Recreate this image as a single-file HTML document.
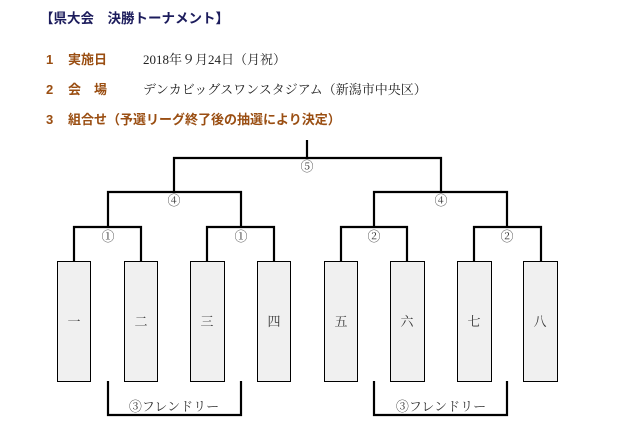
<!DOCTYPE html>
<html><head><meta charset="utf-8"><style>
html,body{margin:0;padding:0;background:#fff;width:635px;height:427px;overflow:hidden}
</style></head><body>
<svg width="635" height="427" xmlns="http://www.w3.org/2000/svg" style="display:block">
<g font-family="'Liberation Sans','Noto Sans CJK JP',sans-serif" font-size="13">
<text x="40" y="23" font-weight="bold" fill="#1c1c5c" font-size="13.5">【県大会　決勝トーナメント】</text>
<g fill="#9a4e12" font-weight="bold">
<text x="46" y="64">1</text><text x="68" y="64">実施日</text>
<text x="46" y="94">2</text><text x="68" y="94">会　場</text>
<text x="46" y="124">3</text><text x="68" y="124">組合せ（予選リーグ終了後の抽選により決定）</text>
</g>
<g fill="#222" font-family="'Liberation Serif','Noto Serif CJK SC',serif">
<text x="143" y="64">2018年９月24日（月祝）</text>
<text x="143" y="94">デンカビッグスワンスタジアム（新潟市中央区）</text>
</g>
</g>
<g stroke="#000" stroke-width="2.2" fill="none">
<polyline points="307,140 307,158"/>
<polyline points="174,192 174,158 441,158 441,192"/>
<polyline points="108,227 108,192 241,192 241,227"/>
<polyline points="374,227 374,192 507,192 507,227"/>
<polyline points="74,261 74,227 141,227 141,261"/>
<polyline points="207,261 207,227 274,227 274,261"/>
<polyline points="341,261 341,227 407,227 407,261"/>
<polyline points="474,261 474,227 541,227 541,261"/>
<polyline points="108,381 108,415 241,415 241,381"/>
<polyline points="374,381 374,415 507,415 507,381"/>
</g>
<g fill="#f0f0f0" stroke="#000" stroke-width="1">
<rect x="57.5" y="261.5" width="33" height="120"/>
<rect x="124.5" y="261.5" width="33" height="120"/>
<rect x="190.5" y="261.5" width="34" height="120"/>
<rect x="257.5" y="261.5" width="33" height="120"/>
<rect x="324.5" y="261.5" width="33" height="120"/>
<rect x="390.5" y="261.5" width="34" height="120"/>
<rect x="457.5" y="261.5" width="34" height="120"/>
<rect x="523.5" y="261.5" width="34" height="120"/>
</g>
<g font-family="'Liberation Serif','Noto Serif CJK SC',serif" font-size="13" fill="#333" text-anchor="middle">
<text x="74" y="326">一</text><text x="141" y="326">二</text><text x="207" y="326">三</text><text x="274" y="326">四</text>
<text x="341" y="326">五</text><text x="407" y="326">六</text><text x="474" y="326">七</text><text x="540" y="326">八</text>
<text x="307" y="171">⑤</text>
<text x="174" y="205">④</text><text x="441" y="205">④</text>
<text x="108" y="241">①</text><text x="241" y="241">①</text>
<text x="374" y="241">②</text><text x="507" y="241">②</text>
<text x="174" y="411">③フレンドリー</text><text x="441" y="411">③フレンドリー</text>
</g>
</svg>
</body></html>
